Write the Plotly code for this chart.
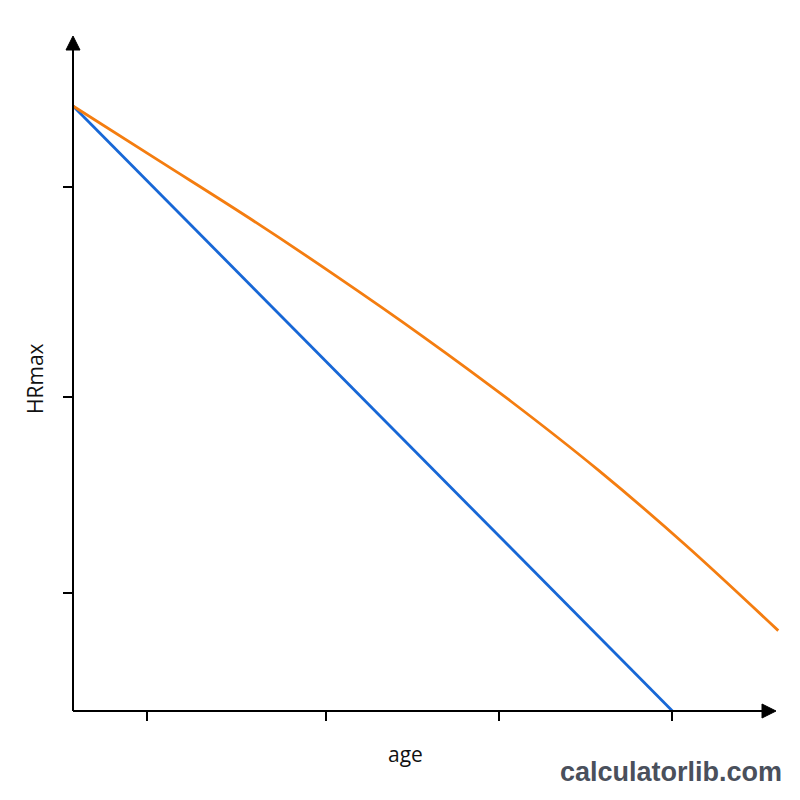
import plotly.graph_objects as go

# ---- data ----
blue_age = [11.5, 80.0]
blue_hr = [208.5, 140.0]

orange_age = [11.5, 21.5, 31.5, 41.5, 51.5, 61.5, 71.5, 81.5, 92.1]
orange_hr = [208.5, 202.2, 195.9, 189.3, 182.4, 175.1, 167.3, 158.8, 149.1]

x_ticks = [20, 40.4, 60.2, 80]
y_ticks = [153.4, 175.6, 199.3]

x_range = [11.5, 93.44]
y_range = [140.0, 216.2]

W, H = 800, 800
L, R, T, B = 73, 10, 38, 89
PW, PH = W - L - R, H - T - B


def px(x):
    return (x - L) / PW


def py(y):
    return (H - B - y) / PH


fig = go.Figure()
fig.add_trace(go.Scatter(x=blue_age, y=blue_hr, mode="lines",
                         line=dict(color="#1767d6", width=2.8), showlegend=False))
fig.add_trace(go.Scatter(x=orange_age, y=orange_hr, mode="lines", line_shape="spline",
                         line=dict(color="#f47d10", width=2.8), showlegend=False))

shapes = [
    # y axis line
    dict(type="line", xref="paper", yref="paper", x0=0, x1=0, y0=0, y1=py(48),
         line=dict(color="black", width=2)),
    # x axis line
    dict(type="line", xref="paper", yref="paper", x0=0, x1=px(764), y0=0, y1=0,
         line=dict(color="black", width=2)),
    # y arrow head
    dict(type="path", xref="paper", yref="paper",
         path=f"M {px(73)} {py(36)} L {px(66)} {py(50)} L {px(80)} {py(50)} Z",
         fillcolor="black", line=dict(color="black", width=1)),
    # x arrow head
    dict(type="path", xref="paper", yref="paper",
         path=f"M {px(776)} {py(711)} L {px(762)} {py(704)} L {px(762)} {py(718)} Z",
         fillcolor="black", line=dict(color="black", width=1)),
]

annotations = [
    dict(text="age", x=px(405), y=py(754), xref="paper", yref="paper", showarrow=False,
         font=dict(family="Open Sans", size=21, color="#111111"), xanchor="center", yanchor="middle"),
    dict(text="HRmax", x=px(35), y=py(379), xref="paper", yref="paper", showarrow=False,
         textangle=-90, font=dict(family="Open Sans", size=21, color="#111111"),
         xanchor="center", yanchor="middle"),
    dict(text="<b>calculatorlib.com</b>", x=px(671), y=py(772), xref="paper", yref="paper",
         showarrow=False, font=dict(family="Liberation Sans", size=27, color="#4a505c"),
         xanchor="center", yanchor="middle"),
]

fig.update_layout(
    width=W, height=H,
    margin=dict(l=L, r=R, t=T, b=B),
    paper_bgcolor="white", plot_bgcolor="white",
    shapes=shapes, annotations=annotations,
    xaxis=dict(range=x_range, showgrid=False, zeroline=False, showline=False,
               tickvals=x_ticks, showticklabels=False, ticks="outside",
               ticklen=9, tickwidth=2, tickcolor="black"),
    yaxis=dict(range=y_range, showgrid=False, zeroline=False, showline=False,
               tickvals=y_ticks, showticklabels=False, ticks="outside",
               ticklen=9, tickwidth=2, tickcolor="black"),
)

fig.write_html("out.html")
